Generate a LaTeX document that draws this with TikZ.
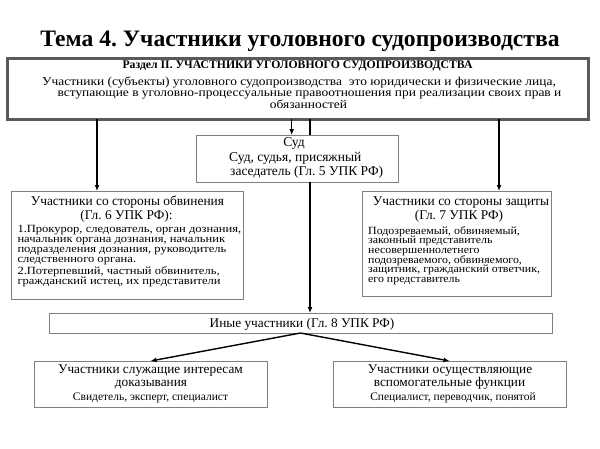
\documentclass[tikz,border=0pt]{standalone}
\usepackage{fontspec}
\setmainfont{Liberation Serif}
\newfontfamily\stA[FakeStretch=1.12]{Liberation Serif}
\newfontfamily\stB[FakeStretch=1.14]{Liberation Serif}
\newfontfamily\stC[FakeStretch=1.08]{Liberation Serif}
\usetikzlibrary{arrows.meta}
\definecolor{bordergray}{HTML}{808080}
\definecolor{maingray}{HTML}{5A5A5A}
\frenchspacing
\begin{document}
\begin{tikzpicture}[x=1pt,y=-1pt,
  box/.style={draw=bordergray, line width=1pt, fill=white, inner sep=0pt, outer sep=0pt, anchor=north west},
  mainbox/.style={box, draw=maingray, line width=3pt},
  arr/.style={-{Latex[length=6pt,width=5pt]}, line width=1.4pt},
  ln/.style={line width=1.4pt},
  tc/.style={inner sep=0pt, anchor=base},
  tl/.style={inner sep=0pt, anchor=base west},
  ttl/.style={tc, font=\fontsize{23.6}{23.6}\selectfont\bfseries},
  mhead/.style={tc, font=\fontsize{11.7}{11.7}\selectfont\bfseries},
  mtext/.style={tc, font=\stA\fontsize{12}{12}\selectfont},
  sud/.style={font=\fontsize{13.5}{13.5}\selectfont},
  stitle/.style={tc, font=\fontsize{13.4}{13.4}\selectfont},
  lbody/.style={tl, font=\stB\fontsize{11}{11}\selectfont},
  rbody/.style={tl, font=\stC\fontsize{11}{11}\selectfont},
  btitle/.style={tc, font=\fontsize{13.3}{13.3}\selectfont},
  bsub/.style={tc, font=\fontsize{11.5}{11.5}\selectfont}]
\useasboundingbox (0,0) rectangle (600,448);
\fill[white] (0,0) rectangle (600,448);

% title
\node[ttl] (title) at (300,46) {Тема 4. Участники уголовного судопроизводства};

% boxes
\node[mainbox, minimum width=581, minimum height=61] (M) at (7,58) {};
\node[box, minimum width=202, minimum height=47] (S) at (196,135) {};
\node[box, minimum width=232, minimum height=108] (L) at (11,191) {};
\node[box, minimum width=189, minimum height=105] (R) at (362,191) {};
\node[box, minimum width=503, minimum height=20] (I) at (49,313) {};
\node[box, minimum width=233, minimum height=46] (BL) at (34,361) {};
\node[box, minimum width=233, minimum height=46] (BR) at (333,361) {};

% x positions of connectors
\coordinate (xl) at (97,0);
\coordinate (xs) at (291.7,0);
\coordinate (xm) at (310,0);
\coordinate (xr) at (499,0);

% connectors
\draw[arr] (M.south -| xl) -- (L.north -| xl);
\draw[arr] (M.south -| xs) -- (S.north -| xs);
\draw[ln] (M.south -| xm) -- (S.north -| xm);
\draw[arr] (S.south -| xm) -- (I.north -| xm);
\draw[arr] (M.south -| xr) -- (R.north -| xr);
\draw[arr] (I.south) -- (BL.north);
\draw[arr] (I.south) -- (BR.north);

% main box text
\node[mhead] (m1) at (297.5,68.5) {Раздел II. УЧАСТНИКИ УГОЛОВНОГО СУДОПРОИЗВОДСТВА};
\node[mtext] (m2) at (299,85) {Участники (субъекты) уголовного судопроизводства\ \ это юридически и физические лица,};
\node[mtext] (m3) at (309.5,96.7) {вступающие в уголовно-процессуальные правоотношения при реализации своих прав и};
\node[mtext] (m4) at (308.5,108.2) {обязанностей};

% court
\node[tc, sud] (s1) at (294,146) {Суд};
\node[tl, sud] (s2) at (229,161.7) {Суд, судья, присяжный};
\node[tl, sud] (s3) at (230,175.2) {заседатель (Гл. 5 УПК РФ)};

% prosecution
\node[stitle] (l1) at (127.4,205) {Участники со стороны обвинения};
\node[stitle] (l2) at (126.5,219) {(Гл. 6 УПК РФ):};
\node[lbody] (l3) at (17.3,232.5) {1.Прокурор, следователь, орган дознания,};
\node[lbody] (l4) at (17.3,242.5) {начальник органа дознания, начальник};
\node[lbody] (l5) at (17.3,252.5) {подразделения дознания, руководитель};
\node[lbody] (l6) at (17.3,262.5) {следственного органа.};
\node[lbody] (l7) at (17.3,274) {2.Потерпевший, частный обвинитель,};
\node[lbody] (l8) at (17.3,284) {гражданский истец, их представители};

% defence
\node[stitle] (r1) at (461,205) {Участники со стороны защиты};
\node[stitle] (r2) at (459,219) {(Гл. 7 УПК РФ)};
\node[rbody] (r3) at (368,234) {Подозреваемый, обвиняемый,};
\node[rbody] (r4) at (368,243.7) {законный представитель};
\node[rbody] (r5) at (368,253.4) {несовершеннолетнего};
\node[rbody] (r6) at (368,263.1) {подозреваемого, обвиняемого,};
\node[rbody] (r7) at (368,272.8) {защитник, гражданский ответчик,};
\node[rbody] (r8) at (368,282.5) {его представитель};

% others
\node[btitle] (i1) at (302,327) {Иные участники (Гл. 8 УПК РФ)};

\node[btitle] (bl1) at (150.5,373.5) {Участники служащие интересам};
\node[btitle] (bl2) at (151,386) {доказывания};
\node[bsub] (bl3) at (150.5,400.7) {Свидетель, эксперт, специалист};

\node[btitle] (br1) at (450,373.5) {Участники осуществляющие};
\node[btitle] (br2) at (449.5,386) {вспомогательные функции};
\node[bsub] (br3) at (453,400.7) {Специалист, переводчик, понятой};
\end{tikzpicture}
\end{document}
